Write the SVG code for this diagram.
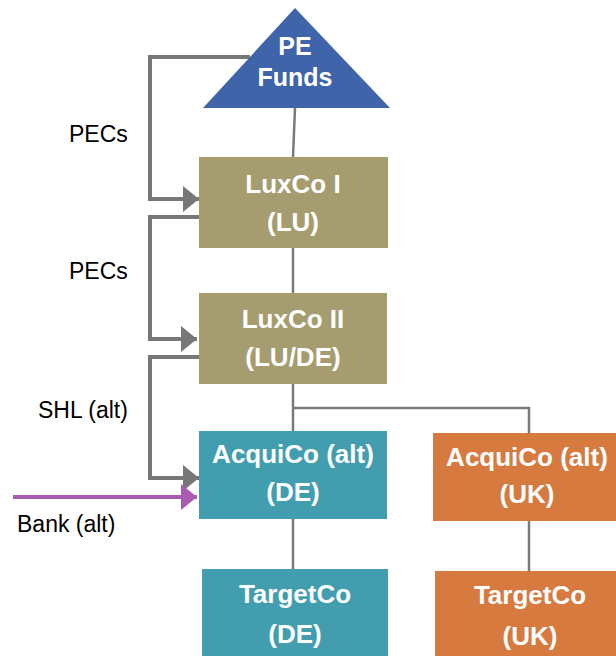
<svg xmlns="http://www.w3.org/2000/svg" width="616" height="656" viewBox="0 0 616 656">
  <style>
    .node-text { font-family: "Liberation Sans", Arial, sans-serif; font-weight: bold; font-size: 26px; fill: #ffffff; text-anchor: middle; }
    .label { font-family: "Liberation Sans", Arial, sans-serif; font-size: 23px; fill: #000000; }
    .link { fill: none; stroke: #7a7a7a; stroke-width: 2.5; }
    .flow { fill: none; stroke: #777777; stroke-width: 4; stroke-linejoin: miter; }
    .bank { fill: none; stroke: #a95cb1; stroke-width: 4; }
    .khaki { fill: #a59d6f; }
    .teal { fill: #429eaf; }
    .orange { fill: #d67a40; }
  </style>
  <defs>
    <marker id="arrow-grey" markerUnits="userSpaceOnUse" viewBox="0 0 16 26" markerWidth="16" markerHeight="26" refX="16" refY="13" orient="auto">
      <path d="M0,0 L16,13 L0,26 z" fill="#777777"/>
    </marker>
    <marker id="arrow-purple" markerUnits="userSpaceOnUse" viewBox="0 0 16 26" markerWidth="16" markerHeight="26" refX="16" refY="13" orient="auto">
      <path d="M0,0 L16,13 L0,26 z" fill="#a95cb1"/>
    </marker>
  </defs>

  <!-- ownership lines and funding flows -->
  <g id="connectors">
    <path class="link" d="M295,108 L293,157"/>
    <path class="link" d="M293,248 V293"/>
    <path class="link" d="M293,384 V431"/>
    <path class="link" d="M293,408 H529 V433"/>
    <path class="link" d="M293,519 V569"/>
    <path class="link" d="M529,521 V571"/>
    <path class="flow" d="M250,57 H150 V199 H199" marker-end="url(#arrow-grey)"/>
    <path class="flow" d="M201,217 H150 V339 H197" marker-end="url(#arrow-grey)"/>
    <path class="flow" d="M203,357 H150 V478 H199" marker-end="url(#arrow-grey)"/>
    <path class="bank" d="M13,497 H197" marker-end="url(#arrow-purple)"/>
  </g>

  <g id="labels">
    <text class="label" x="69" y="142">PECs</text>
    <text class="label" x="69" y="279">PECs</text>
    <text class="label" x="38" y="418">SHL (alt)</text>
    <text class="label" x="17" y="532">Bank (alt)</text>
  </g>

  <g id="pe-funds">
    <polygon points="295,8 390,108 203,108" fill="#3f64a9"/>
    <text class="node-text" x="295" y="55" style="font-size:25px">PE</text>
    <text class="node-text" x="295" y="86" style="font-size:25px">Funds</text>
  </g>

  <g id="luxco-1">
    <rect class="khaki" x="199" y="157" width="189" height="91"/>
    <text class="node-text" x="293" y="193">LuxCo I</text>
    <text class="node-text" x="293" y="231">(LU)</text>
  </g>

  <g id="luxco-2">
    <rect class="khaki" x="199" y="293" width="188" height="91"/>
    <text class="node-text" x="293" y="328">LuxCo II</text>
    <text class="node-text" x="293" y="366">(LU/DE)</text>
  </g>

  <g id="acquico-de">
    <rect class="teal" x="199" y="431" width="188" height="88"/>
    <text class="node-text" x="293" y="463">AcquiCo (alt)</text>
    <text class="node-text" x="293" y="501">(DE)</text>
  </g>

  <g id="acquico-uk">
    <rect class="orange" x="433" y="433" width="183" height="88"/>
    <text class="node-text" x="527" y="466">AcquiCo (alt)</text>
    <text class="node-text" x="527" y="503">(UK)</text>
  </g>

  <g id="targetco-de">
    <rect class="teal" x="202" y="569" width="186" height="87"/>
    <text class="node-text" x="295" y="603">TargetCo</text>
    <text class="node-text" x="295" y="643">(DE)</text>
  </g>

  <g id="targetco-uk">
    <rect class="orange" x="435" y="571" width="181" height="85"/>
    <text class="node-text" x="530" y="604">TargetCo</text>
    <text class="node-text" x="530" y="645">(UK)</text>
  </g>
</svg>
